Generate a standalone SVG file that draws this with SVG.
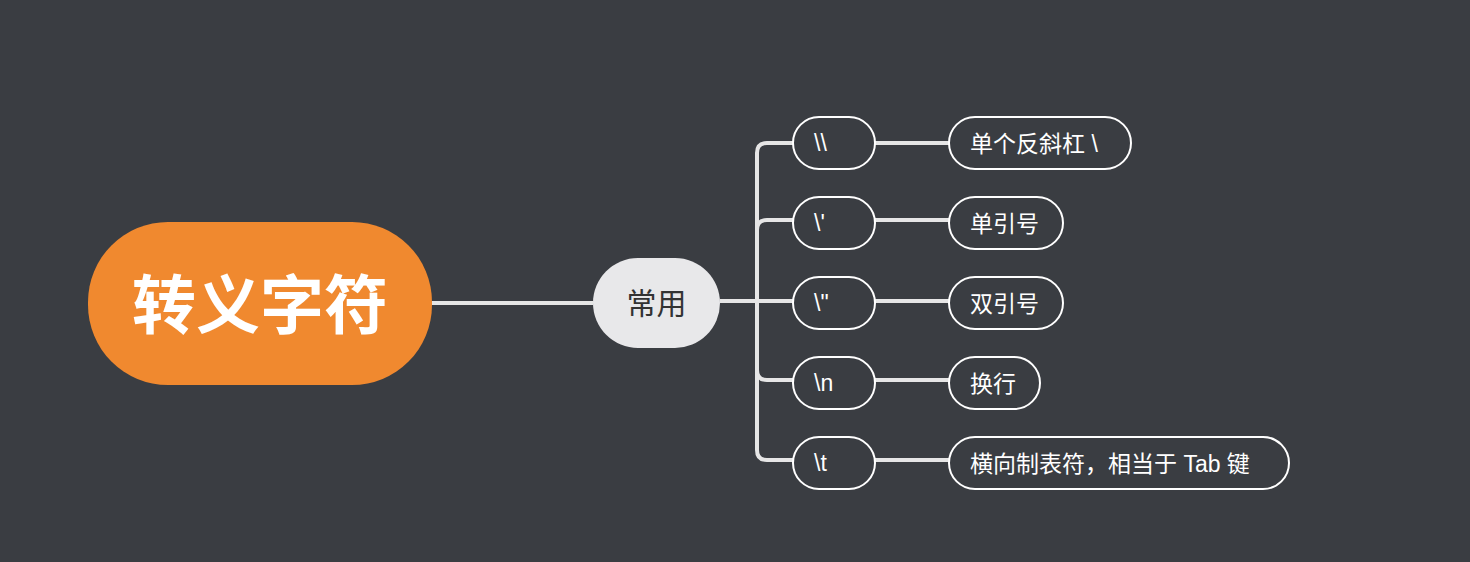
<svg xmlns="http://www.w3.org/2000/svg" width="1470" height="562" viewBox="0 0 1470 562">
<style>
.c{fill:none;stroke:#e6e6e6;stroke-width:4}
.n{fill:#3a3d42;stroke:#ffffff;stroke-width:2}
.t{fill:#ffffff;font-family:"Liberation Sans","Noto Sans CJK SC",sans-serif;font-size:23px}
</style>
<rect width="1470" height="562" fill="#3a3d42"/>
<g id="connectors">
<path class="c" d="M432 303H593"/>
<path class="c" d="M720 301H757"/>
<path class="c" d="M793 143H767Q757 143 757 153V450Q757 460 767 460H793"/>
<path class="c" d="M757 230Q757 220 767 220H793M757 301H793M757 370Q757 380 767 380H793"/>
<path class="c" d="M875 143H949M875 220H949M875 301H949M875 380H949M875 460H949"/>
</g>
<g id="root"><rect x="88" y="222" width="344" height="163" rx="80" fill="#f0892f"/>
<text x="260" y="328" text-anchor="middle" fill="#fff" font-family="'Noto Sans CJK SC',sans-serif" font-weight="bold" font-size="64">转义字符</text></g>
<g id="common"><rect x="593" y="258" width="127" height="90" rx="45" fill="#e8e8ea"/>
<text x="656.5" y="314" text-anchor="middle" fill="#333" font-family="'Noto Sans CJK SC',sans-serif" font-size="30">常用</text></g>
<g id="k1"><rect class="n" x="793" y="117" width="82" height="52" rx="26"/><text class="t" x="814" y="151">\\</text></g>
<g id="k2"><rect class="n" x="793" y="197" width="82" height="52" rx="26"/><text class="t" x="814" y="231">\'</text></g>
<g id="k3"><rect class="n" x="793" y="277" width="82" height="52" rx="26"/><text class="t" x="814" y="311">\"</text></g>
<g id="k4"><rect class="n" x="793" y="357" width="82" height="52" rx="26"/><text class="t" x="814" y="391">\n</text></g>
<g id="k5"><rect class="n" x="793" y="437" width="82" height="52" rx="26"/><text class="t" x="814" y="471">\t</text></g>
<g id="v1"><rect class="n" x="949" y="117" width="182" height="52" rx="26"/><text class="t" x="970" y="152">单个反斜杠 \</text></g>
<g id="v2"><rect class="n" x="949" y="197" width="114" height="52" rx="26"/><text class="t" x="970" y="232">单引号</text></g>
<g id="v3"><rect class="n" x="949" y="277" width="114" height="52" rx="26"/><text class="t" x="970" y="312">双引号</text></g>
<g id="v4"><rect class="n" x="949" y="357" width="91" height="52" rx="26"/><text class="t" x="970" y="392">换行</text></g>
<g id="v5"><rect class="n" x="949" y="437" width="340" height="52" rx="26"/><text class="t" x="970" y="472">横向制表符，相当于 Tab 键</text></g>
</svg>
